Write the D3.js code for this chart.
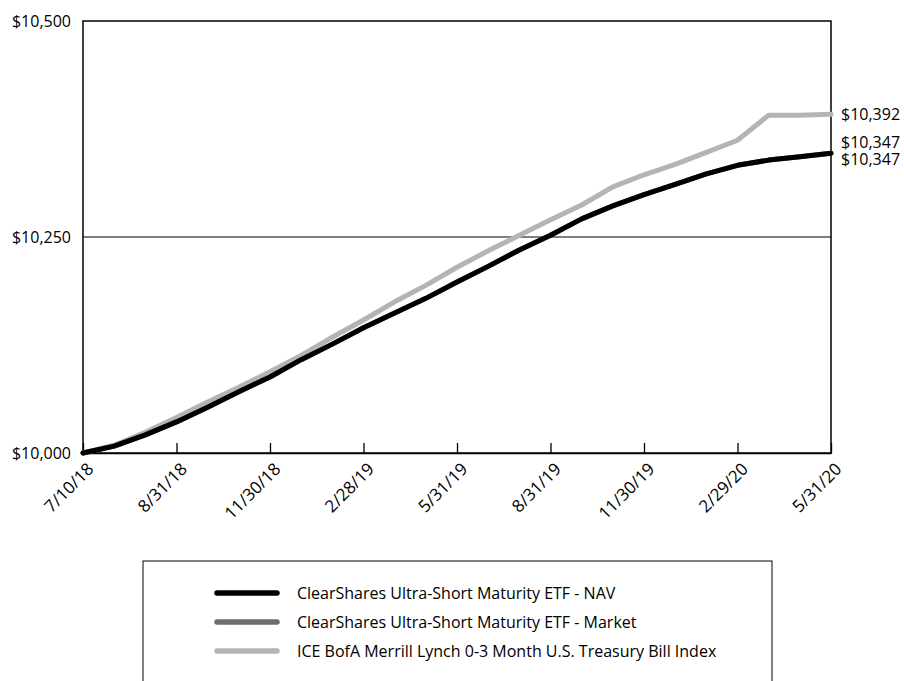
<!DOCTYPE html>
<html>
<head>
<meta charset="utf-8">
<script src="https://cdn.jsdelivr.net/npm/d3@7"></script>
<style>
  body { margin: 0; background: #fff; }
  text { font-family: "Open Sans", sans-serif; fill: #000; }
</style>
</head>
<body>
<div class="chart"></div>
<script>
"use strict";

// DATA ----------------------------
const periods = [
  "7/10/18", "7/31/18", "8/15/18", "8/31/18", "9/30/18", "10/31/18", "11/30/18",
  "12/31/18", "1/31/19", "2/28/19", "3/31/19", "4/30/19", "5/31/19", "6/30/19",
  "7/31/19", "8/31/19", "9/30/19", "10/31/19", "11/30/19", "12/31/19", "1/31/20",
  "2/29/20", "3/31/20", "4/30/20", "5/31/20"
];
const tickLabels = ["7/10/18", "8/31/18", "11/30/18", "2/28/19", "5/31/19",
  "8/31/19", "11/30/19", "2/29/20", "5/31/20"];
const yTicks = [10000, 10250, 10500];

const navValues = [10000, 10008, 10021, 10036, 10053, 10071, 10088, 10108, 10126,
  10145, 10162, 10179, 10198, 10216, 10235, 10252, 10271, 10286, 10299, 10311,
  10323, 10333, 10339, 10343, 10347];
const marketValues = [10000, 10008, 10021, 10036, 10053, 10071, 10088, 10108, 10126,
  10145, 10162, 10179, 10198, 10216, 10235, 10252, 10271, 10286, 10299, 10311,
  10323, 10333, 10339, 10343, 10347];
const indexValues = [10000, 10009, 10024, 10041, 10059, 10076, 10094, 10113, 10134,
  10154, 10175, 10194, 10215, 10234, 10252, 10270, 10287, 10308, 10322, 10334,
  10348, 10362, 10391, 10391, 10392];

const seriesNames = [
  "ClearShares Ultra-Short Maturity ETF - NAV",
  "ClearShares Ultra-Short Maturity ETF - Market",
  "ICE BofA Merrill Lynch 0-3 Month U.S. Treasury Bill Index"
];
const seriesColors = ["#000000", "#6d6d6d", "#b3b4b6"];

const series = [
  { name: seriesNames[0], color: seriesColors[0], values: navValues },
  { name: seriesNames[1], color: seriesColors[1], values: marketValues },
  { name: seriesNames[2], color: seriesColors[2], values: indexValues }
];

// CHART INIT ----------------------------
const MARGIN = { top: 21, right: 73, bottom: 228, left: 83 };
const WIDTH = 904 - MARGIN.left - MARGIN.right,
  HEIGHT = 681 - MARGIN.top - MARGIN.bottom;

const root = d3
  .select(".chart")
  .append("svg")
  .attr("width", 904)
  .attr("height", 681);

const svg = root
  .append("g")
  .attr("transform", "translate(" + MARGIN.left + "," + MARGIN.top + ")");

const xScale = d3.scalePoint().domain(periods).range([0, WIDTH]);
const yScale = d3.scaleLinear().domain([10000, 10500]).range([HEIGHT, 0]);

// gridline at the middle tick
svg
  .append("line")
  .attr("x1", 0)
  .attr("x2", WIDTH)
  .attr("y1", yScale(10250))
  .attr("y2", yScale(10250))
  .attr("stroke", "#000")
  .attr("stroke-width", 1.2);

// frame
svg
  .append("rect")
  .attr("width", WIDTH)
  .attr("height", HEIGHT)
  .attr("fill", "none")
  .attr("stroke", "#000")
  .attr("stroke-width", 1.5);

// axes
const xAxis = d3
  .axisBottom(xScale)
  .tickValues(tickLabels)
  .tickSizeInner(-10)
  .tickSizeOuter(0);

const xGroup = svg
  .append("g")
  .attr("class", "x-axis")
  .attr("transform", `translate(0, ${HEIGHT})`)
  .call(xAxis);

xGroup.select(".domain").attr("stroke", "#000").attr("stroke-width", 1.5);
xGroup.selectAll(".tick line").attr("stroke", "#000").attr("stroke-width", 1.3);
xGroup
  .selectAll(".tick text")
  .attr("font-size", 17)
  .attr("font-family", "Open Sans, sans-serif")
  .attr("fill", "#000")
  .attr("text-anchor", "end")
  .attr("x", 0)
  .attr("y", 0)
  .attr("dy", "0.35em")
  .attr("transform", "translate(7,13) rotate(-45)");

const yAxis = d3
  .axisLeft(yScale)
  .tickValues(yTicks)
  .tickSize(0)
  .tickPadding(12)
  .tickFormat(d3.format("$,"));

const yGroup = svg.append("g").attr("class", "y-axis").call(yAxis);
yGroup.select(".domain").remove();
yGroup
  .selectAll(".tick text")
  .attr("font-size", 16)
  .attr("font-family", "Open Sans, sans-serif")
  .attr("fill", "#000");

// lines (index first, NAV on top)
const line = d3
  .line()
  .x((d, i) => xScale(periods[i]))
  .y((d) => yScale(d));

svg
  .selectAll(".series")
  .data(series.slice().reverse())
  .enter()
  .append("path")
  .attr("class", "series")
  .attr("d", (d) => line(d.values))
  .attr("fill", "none")
  .attr("stroke", (d) => d.color)
  .attr("stroke-width", 5)
  .attr("stroke-linejoin", "round")
  .attr("stroke-linecap", "round");

// end labels
const endLabels = [
  { value: indexValues[indexValues.length - 1], dy: 0 },
  { value: marketValues[marketValues.length - 1], dy: -11 },
  { value: navValues[navValues.length - 1], dy: 6 }
];
svg
  .selectAll(".end-label")
  .data(endLabels)
  .enter()
  .append("text")
  .attr("class", "end-label")
  .attr("x", WIDTH + 10)
  .attr("y", (d) => yScale(d.value) + d.dy)
  .attr("dy", "0.35em")
  .attr("font-size", 16)
  .text((d) => d3.format("$,")(d.value));

// LEGEND ----------------------------
const legend = root.append("g").attr("transform", "translate(143, 561)");

legend
  .append("rect")
  .attr("width", 629)
  .attr("height", 140)
  .attr("fill", "none")
  .attr("stroke", "#000")
  .attr("stroke-width", 1);

const items = legend
  .selectAll(".item")
  .data(series)
  .enter()
  .append("g")
  .attr("class", "item")
  .attr("transform", (d, i) => `translate(0, ${32 + i * 29})`);

items
  .append("line")
  .attr("x1", 74)
  .attr("x2", 134)
  .attr("stroke", (d) => d.color)
  .attr("stroke-width", 5.5)
  .attr("stroke-linecap", "round");

items
  .append("text")
  .attr("x", 154)
  .attr("dy", "0.35em")
  .attr("font-size", 16)
  .text((d) => d.name);
</script>
</body>
</html>
